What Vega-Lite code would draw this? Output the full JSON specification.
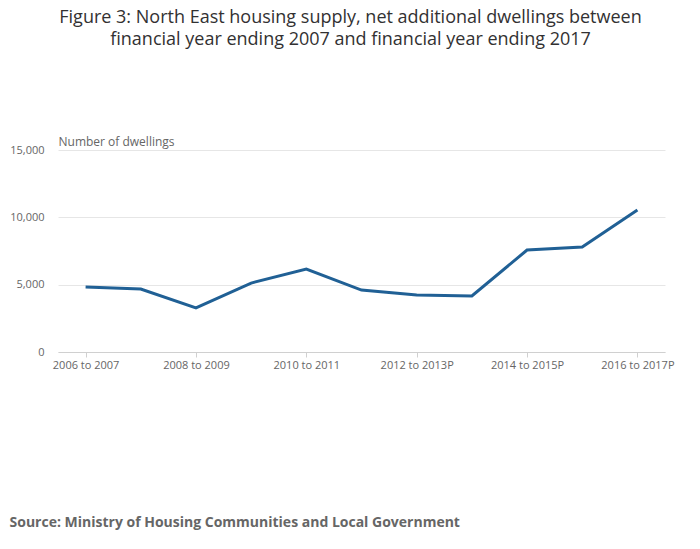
{
  "$schema": "https://vega.github.io/schema/vega-lite/v6.json",
  "width": 607,
  "height": 202,
  "autosize": "none",
  "padding": {"left": 58, "top": 150, "right": 35, "bottom": 197},
  "title": {
    "text": ["Figure 3: North East housing supply, net additional dwellings between", "financial year ending 2007 and financial year ending 2017"],
    "anchor": "middle",
    "frame": "group",
    "dx": -11,
    "offset": 86,
    "font": "Open Sans",
    "fontSize": 18,
    "fontWeight": "normal",
    "color": "#323132",
    "lineHeight": 22
  },
  "data": {
    "values": [
      {"year": "2006 to 2007", "dwellings": 4830},
      {"year": "2007 to 2008", "dwellings": 4680},
      {"year": "2008 to 2009", "dwellings": 3270},
      {"year": "2009 to 2010", "dwellings": 5120},
      {"year": "2010 to 2011", "dwellings": 6160},
      {"year": "2011 to 2012", "dwellings": 4600},
      {"year": "2012 to 2013P", "dwellings": 4230},
      {"year": "2013 to 2014P", "dwellings": 4160},
      {"year": "2014 to 2015P", "dwellings": 7570},
      {"year": "2015 to 2016P", "dwellings": 7800},
      {"year": "2016 to 2017P", "dwellings": 10540}
    ]
  },
  "mark": {"type": "line", "color": "#206095", "strokeWidth": 3},
  "encoding": {
    "x": {
      "field": "year",
      "type": "ordinal",
      "sort": null,
      "scale": {"type": "point", "padding": 0.5},
      "axis": {
        "values": ["2006 to 2007", "2008 to 2009", "2010 to 2011", "2012 to 2013P", "2014 to 2015P", "2016 to 2017P"],
        "labelAngle": 0,
        "labelFont": "Open Sans",
        "labelFontSize": 11,
        "labelColor": "#666666",
        "domainColor": "#d0d0d0",
        "tickColor": "#d0d0d0",
        "tickSize": 5,
        "title": "Source: Ministry of Housing Communities and Local Government",
        "titleFont": "Open Sans",
        "titleFontSize": 14,
        "titleFontWeight": "bold",
        "titleColor": "#666666",
        "titleAnchor": "start",
        "titleAlign": "left",
        "titleX": -49,
        "titleY": 163
      }
    },
    "y": {
      "field": "dwellings",
      "type": "quantitative",
      "scale": {"domain": [0, 15000]},
      "axis": {
        "values": [0, 5000, 10000, 15000],
        "labelExpr": "format(datum.value, ',')",
        "ticks": false,
        "domain": false,
        "labelPadding": 14,
        "labelFont": "Open Sans",
        "labelFontSize": 11,
        "labelColor": "#666666",
        "gridColor": "#e6e6e6",
        "title": "Number of dwellings",
        "titleAngle": 0,
        "titleAlign": "left",
        "titleBaseline": "bottom",
        "titleX": 0,
        "titleY": -2,
        "titleFont": "Open Sans",
        "titleFontSize": 12,
        "titleFontWeight": "normal",
        "titleColor": "#666666"
      }
    }
  },
  "config": {"view": {"stroke": null}}
}
